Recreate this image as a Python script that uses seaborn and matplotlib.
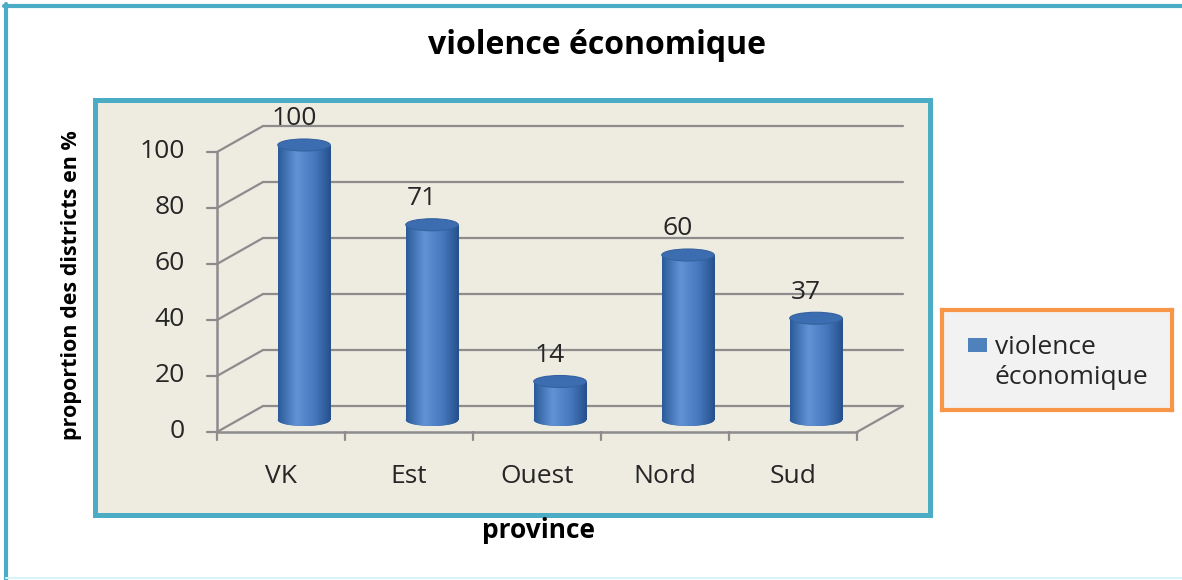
import numpy as np
import matplotlib
matplotlib.use("Agg")
import matplotlib.pyplot as plt
from matplotlib.patches import Ellipse, Rectangle
from matplotlib.lines import Line2D
from matplotlib.colors import LinearSegmentedColormap
import seaborn as sns

# données
provinces = ["VK", "Est", "Ouest", "Nord", "Sud"]
valeurs = [100, 71, 14, 60, 37]
y_ticks = [0, 20, 40, 60, 80, 100]
titre = "violence économique"
serie = "violence économique"
y_label = "proportion des districts en %"
x_label = "province"

sns.set_theme(style="white", rc={"axes.linewidth": 0})
plt.rcParams["font.family"] = ["Open Sans", "DejaVu Sans"]

teal = "#4BACC6"
orange = "#F79646"
fond = "#EEECE1"
gris = "#8C8C8C"
bleu = "#4F81BD"
texte = "#262626"
fs = 19  # taille des étiquettes

W, H = 1182, 580
fig = plt.figure(figsize=(W / 100, H / 100), dpi=100)
fig.patch.set_facecolor("white")


def box(l, t, r, b):
    return [l / W, 1 - b / H, (r - l) / W, (b - t) / H]


# cadre extérieur
fig.add_artist(Line2D([4 / W, 1], [1 - 5.5 / H] * 2, color=teal, lw=3))
fig.add_artist(Line2D([6 / W] * 2, [0, 1 - 4 / H], color=teal, lw=3))
fig.add_artist(Line2D([6 / W, 1], [1 - 578 / H] * 2, color="#D6F3F8", lw=1.5))

# zone de traçage (face avant du repère 3D)
L, T, R, B = 95, 100, 930, 515
X0, SX, Y0, SY = 217, 128, 432, 2.8
ax = fig.add_axes(box(L, T, R, B))
ax.set_facecolor(fond)
for s in ax.spines.values():
    s.set_visible(True)
    s.set_color(teal)
    s.set_linewidth(3.6)
ax.set_xticks([])
ax.set_yticks([])

n = len(provinces)
DX, DY = 0.36, 9.3  # profondeur
for t in y_ticks:
    ax.plot([-0.5 + DX, n - 0.5 + DX], [t + DY] * 2, color=gris, lw=1.6)
    ax.plot([-0.5, -0.5 + DX], [t, t + DY], color=gris, lw=1.6)
    ax.plot([-0.58, -0.5], [t, t], color=gris, lw=1.6)
    ax.text(-0.75, t, str(t), ha="right", va="center", fontsize=fs, color=texte)
ax.plot([-0.5, -0.5], [0, y_ticks[-1]], color=gris, lw=1.8)
ax.plot([-0.5, n - 0.5], [0, 0], color=gris, lw=1.8)
ax.plot([n - 0.5, n - 0.5 + DX], [0, DY], color=gris, lw=1.6)
for k in range(n + 1):
    ax.plot([k - 0.5] * 2, [0, -3], color=gris, lw=1.6)
for i, p in enumerate(provinces):
    ax.text(i, -16, p, ha="center", va="center", fontsize=fs, color=texte)
ax.set_xlim(-0.5 + (L - X0) / SX, -0.5 + (R - X0) / SX)
ax.set_ylim((Y0 - B) / SY, (Y0 - T) / SY)

# cylindres (décalés à mi-profondeur)
CX0, CY0, CSY = 304, 420, 2.75
axc = fig.add_axes(box(L, T, R, B))
sns.barplot(x=provinces, y=valeurs, ax=axc, width=0.41, color="#2F5E9E",
            saturation=1, zorder=2)
cyl = LinearSegmentedColormap.from_list(
    "cyl", [(0, "#2C5A99"), (0.35, "#6193D6"), (0.7, "#4677BD"), (1, "#24508C")])
grad = np.linspace(0, 1, 256).reshape(1, -1)
eh = 12 / CSY
for i, p in enumerate(list(axc.patches)):
    x0, w, h = p.get_x(), p.get_width(), p.get_height()
    p.set_edgecolor("none")
    im = axc.imshow(grad, extent=[x0, x0 + w, 0, h], aspect="auto", cmap=cyl,
                    zorder=3, interpolation="bicubic")
    im.set_clip_path(p)
    bas = Ellipse((x0 + w / 2, 0), w, eh, facecolor="#2F5E9E", edgecolor="none", zorder=2)
    axc.add_patch(bas)
    im2 = axc.imshow(grad, extent=[x0, x0 + w, -eh, eh], aspect="auto", cmap=cyl,
                     zorder=2.5, interpolation="bicubic")
    im2.set_clip_path(bas)
    axc.add_patch(Ellipse((x0 + w / 2, h), w, eh, facecolor="#3C6DB1",
                          edgecolor="#35629F", lw=0.8, zorder=4))
    axc.text(x0 + w / 2 - 0.08, h + 9.5, str(valeurs[i]), ha="center", va="center",
             fontsize=fs, color=texte, zorder=5)
axc.set_xlim((L - CX0) / SX, (R - CX0) / SX)
axc.set_ylim((CY0 - B) / CSY, (CY0 - T) / CSY)
axc.axis("off")

# titres
fig.text(597 / W, 1 - 46 / H, titre, ha="center", va="center", fontsize=23,
         fontweight="bold", color="black")
fig.text(72 / W, 1 - 285 / H, y_label, ha="center", va="center", rotation=90,
         fontsize=15.5, fontweight="bold", color="black")
fig.text(538 / W, 1 - 530 / H, x_label, ha="center", va="center", fontsize=19,
         fontweight="bold", color="black")

# légende
lg = fig.add_axes(box(942, 310, 1172, 410))
lg.set_facecolor("#F2F2F2")
for s in lg.spines.values():
    s.set_visible(True)
    s.set_color(orange)
    s.set_linewidth(3)
lg.set_xticks([])
lg.set_yticks([])
lg.set_xlim(0, 1)
lg.set_ylim(0, 1)
lg.add_patch(Rectangle((0.113, 0.58), 0.083, 0.14, facecolor=bleu, edgecolor="none"))
mots = serie.split(" ")
lg.text(0.23, 0.63, mots[0], ha="left", va="center", fontsize=fs, color=texte)
lg.text(0.23, 0.33, mots[1], ha="left", va="center", fontsize=fs, color=texte)

fig.savefig("out.png", dpi=100, facecolor="white")
